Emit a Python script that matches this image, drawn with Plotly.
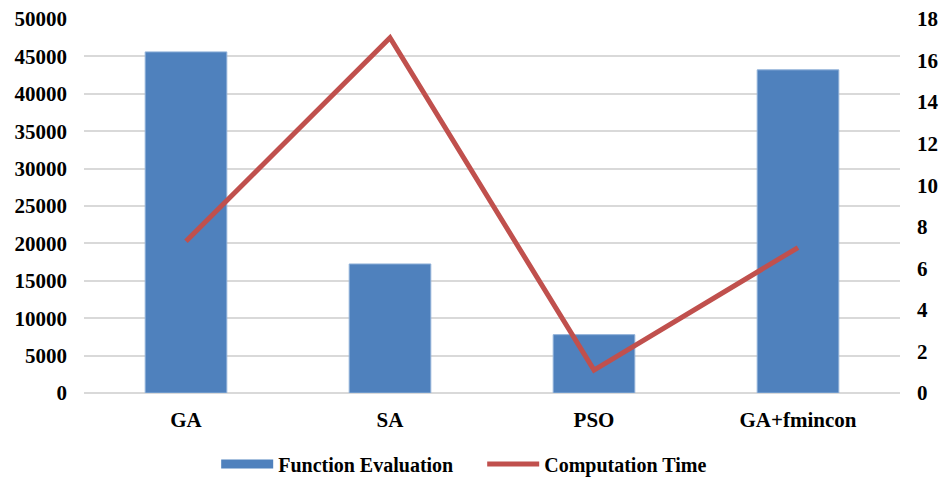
import plotly.graph_objects as go

categories = ["GA", "SA", "PSO", "GA+fmincon"]
function_evaluation = [45600, 17250, 7800, 43200]
computation_time = [7.3, 17.1, 1.1, 7.0]

FONT = "Times New Roman"
FS = 21
LFS = 20

fig = go.Figure()
fig.add_trace(go.Bar(
    x=categories, y=function_evaluation, name="Function Evaluation",
    marker=dict(color="#4F81BD", line=dict(color="#8FB0D8", width=1)),
    width=0.4, yaxis="y", showlegend=False,
))
# legend entry styled like the reference (wide flat rectangle)
fig.add_trace(go.Scatter(
    x=[None], y=[None], name="Function Evaluation", mode="lines",
    line=dict(color="#4F81BD", width=9), yaxis="y",
))
fig.add_trace(go.Scatter(
    x=categories, y=computation_time, name="Computation Time",
    mode="lines", line=dict(color="#C0504D", width=5), yaxis="y2",
))

fig.update_layout(
    width=941, height=477,
    margin=dict(l=84, r=41, t=19, b=84, autoexpand=False),
    paper_bgcolor="white", plot_bgcolor="white",
    font=dict(family=FONT, size=FS, color="black", weight="bold"),
    showlegend=True,
    legend=dict(orientation="h", x=0.162, xanchor="left", y=-0.19, yanchor="middle",
                font=dict(family=FONT, size=LFS, color="black", weight="bold"),
                itemwidth=52, entrywidth=199, entrywidthmode="pixels",
                traceorder="normal", tracegroupgap=0),
    xaxis=dict(showgrid=False, showline=False, ticks="", automargin=False,
               ticklabelstandoff=12,
               tickfont=dict(family=FONT, size=FS, weight="bold")),
    yaxis=dict(range=[0, 50000], dtick=5000, showgrid=True, gridcolor="#D9D9D9", gridwidth=1.5,
               zeroline=True, zerolinecolor="#D9D9D9", zerolinewidth=1.5,
               showline=False, ticks="", tickformat="d", automargin=False,
               ticklabeloverflow="allow", ticklabelstandoff=16,
               tickfont=dict(family=FONT, size=FS, weight="bold")),
    yaxis2=dict(range=[0, 18], dtick=2, overlaying="y", side="right", showgrid=False,
                zeroline=False, showline=False, ticks="", automargin=False,
                ticklabeloverflow="allow", ticklabelstandoff=16,
                tickfont=dict(family=FONT, size=FS, weight="bold")),
)

fig.write_html("out.html", config={"displayModeBar": False})

# remove the browser's default page margin so the figure fills the window exactly
with open("out.html", "r", encoding="utf-8") as f:
    html = f.read()
html = html.replace("<body>", '<body style="margin:0;overflow:hidden">', 1)
with open("out.html", "w", encoding="utf-8") as f:
    f.write(html)
